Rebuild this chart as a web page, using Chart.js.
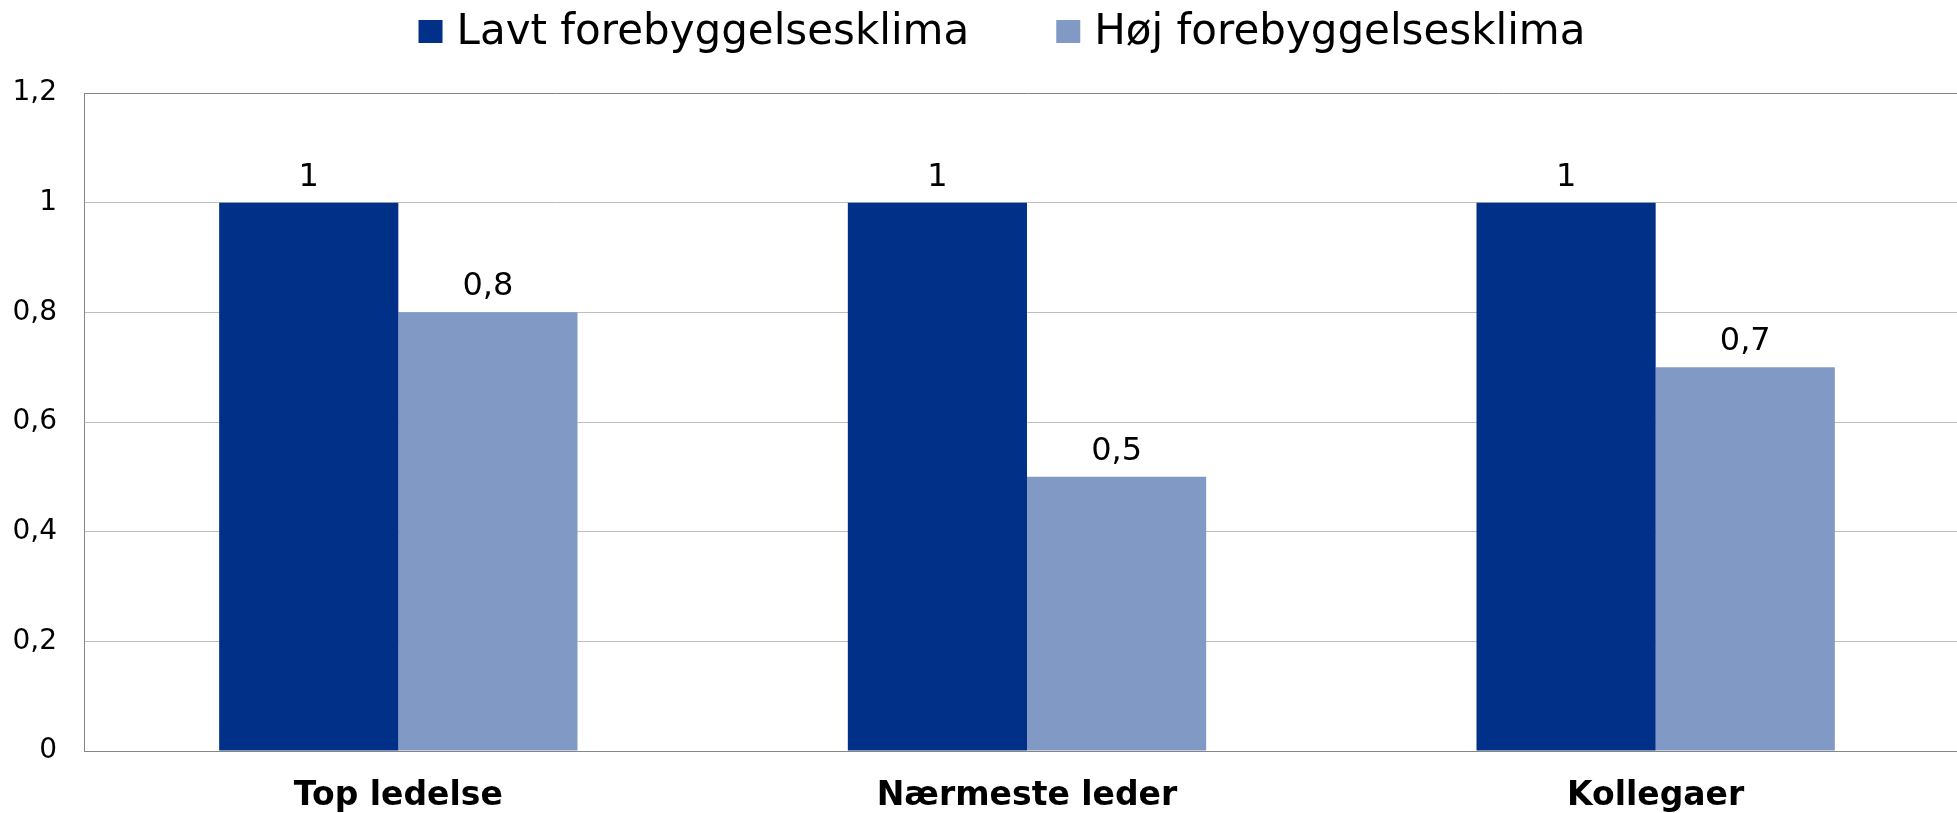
<!DOCTYPE html>
<html><head><meta charset="utf-8">
<script src="https://cdn.jsdelivr.net/npm/chart.js@4/dist/chart.umd.min.js"></script>
<style>html,body{margin:0;padding:0;background:#fff;overflow:hidden;} #wrap{width:1957px;height:813px;overflow:hidden;}</style>
</head><body><div id="wrap"><canvas id="c" width="1970" height="813"></canvas></div>
<script>
const categories = ['Top ledelse', 'Nærmeste leder', 'Kollegaer'];
const seriesNames = ['Lavt forebyggelsesklima', 'Høj forebyggelsesklima'];
const lavtValues = [1, 1, 1];
const hojValues = [0.8, 0.5, 0.7];
const yTickLabels = ['0', '0,2', '0,4', '0,6', '0,8', '1', '1,2'];
const yMin = 0, yMax = 1.2, yStep = 0.2;
const seriesColors = ['#003087', '#8199C5'];

const FAMILY = '"DejaVu Sans", Verdana, sans-serif';
Chart.defaults.font.family = FAMILY;

function fmt(v) { return String(Math.round(v * 10) / 10).replace('.', ','); }

const valueLabels = {
  id: 'valueLabels',
  afterDatasetsDraw(chart) {
    const ctx = chart.ctx; ctx.save();
    ctx.font = '32px ' + FAMILY; ctx.fillStyle = '#000';
    ctx.textAlign = 'center'; ctx.textBaseline = 'alphabetic';
    chart.data.datasets.forEach((ds, i) => {
      const meta = chart.getDatasetMeta(i);
      meta.data.forEach((bar, j) => { ctx.fillText(fmt(ds.data[j]), bar.x, bar.y - 17); });
    });
    ctx.restore();
  }
};

const customLegend = {
  id: 'customLegend',
  afterDraw(chart, args, opts) {
    const ctx = chart.ctx; ctx.save();
    ctx.font = opts.fontSize + 'px ' + FAMILY;
    const items = chart.data.datasets.map(ds => ({ text: ds.label, color: ds.backgroundColor, w: ctx.measureText(ds.label).width }));
    const total = items.reduce((s, it) => s + opts.box + opts.gap + it.w, 0) + opts.spacing * (items.length - 1);
    let x = opts.centerX - total / 2;
    ctx.textBaseline = 'middle'; ctx.textAlign = 'left';
    items.forEach(it => {
      ctx.fillStyle = it.color; ctx.fillRect(x, opts.boxTop, opts.box, opts.boxH);
      ctx.fillStyle = '#000'; ctx.fillText(it.text, x + opts.box + opts.gap, opts.textY);
      x += opts.box + opts.gap + it.w + opts.spacing;
    });
    ctx.restore();
  }
};

const edgeColor = '#868686', gridColor = '#BEBEBE';

new Chart(document.getElementById('c'), {
  type: 'bar',
  data: {
    labels: categories,
    datasets: [
      { label: seriesNames[0], data: lavtValues, backgroundColor: seriesColors[0], borderWidth: 0, categoryPercentage: 0.57, barPercentage: 1 },
      { label: seriesNames[1], data: hojValues, backgroundColor: seriesColors[1], borderWidth: 0, categoryPercentage: 0.57, barPercentage: 1 }
    ]
  },
  options: {
    responsive: false,
    animation: false,
    layout: { padding: { top: 93, right: 0, left: 0, bottom: 0 } },
    plugins: {
      legend: { display: false },
      tooltip: { enabled: false },
      customLegend: { fontSize: 42, box: 24, boxH: 23, boxTop: 20, gap: 14, textY: 33, spacing: 87, centerX: 1002 }
    },
    scales: {
      x: {
        grid: { display: false },
        border: { display: true, color: edgeColor, width: 1 },
        ticks: { font: { size: 33, weight: 'bold' }, color: '#000', padding: 18, maxRotation: 0, autoSkip: false },
        afterFit(s) { s.height = 62; }
      },
      y: {
        min: yMin, max: yMax,
        ticks: { stepSize: yStep, callback: (v) => yTickLabels[Math.round(v / yStep)], font: { size: 28 }, color: '#000', padding: 27 },
        grid: {
          drawTicks: false,
          color: (c) => (c.tick && (Math.abs(c.tick.value - yMin) < 1e-9 || Math.abs(c.tick.value - yMax) < 1e-9)) ? edgeColor : gridColor
        },
        border: { display: true, color: edgeColor, width: 1 },
        afterFit(s) { s.width = 84; }
      }
    }
  },
  plugins: [valueLabels, customLegend]
});
</script>
</body></html>
